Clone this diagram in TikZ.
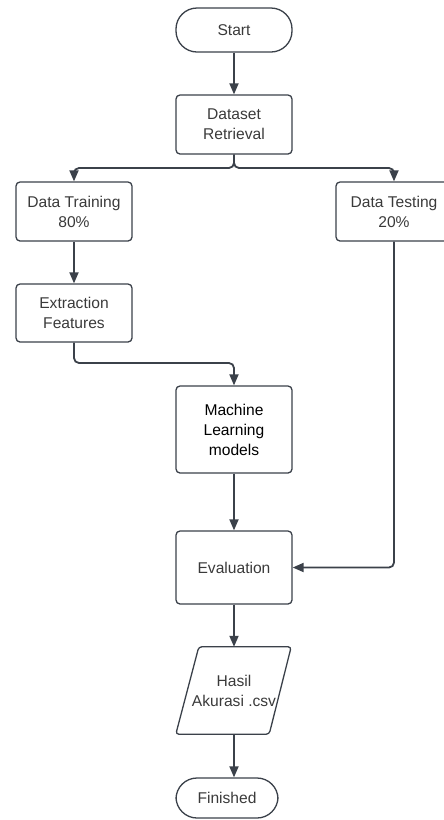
\documentclass[tikz,border=0pt]{standalone}
\usepackage{fontspec}
\setmainfont{Liberation Sans}
\usetikzlibrary{arrows.meta,calc}
\definecolor{linec}{HTML}{3B414A}
\definecolor{textc}{HTML}{3A3A3A}
\tikzset{
  box/.style={draw=linec, line width=1.3pt, rounded corners=4pt, minimum width=116pt,
    align=center, text=textc, inner sep=0pt, font=\fontsize{15.6}{20}\selectfont},
  term/.style={box, rounded corners=21pt},
  flow/.style={draw=linec, line width=1.8pt, rounded corners=5pt,
    -{Triangle[length=11pt,width=9pt]}},
}
\begin{document}
\begin{tikzpicture}[x=1pt,y=-1pt]
\useasboundingbox (0,0) rectangle (444,820);
\begin{scope}
\clip (0,0) rectangle (444,820);
\node[term, minimum height=44pt] (start) at (234,30) {Start};
\node[box, minimum height=59pt] (ds) at (234,124.5) {Dataset\\Retrieval};
\node[box, minimum height=59pt] (train) at (74,211.5) {Data Training\\80\%};
\node[box, minimum height=59pt] (test) at (394,211.5) {Data Testing\\20\%};
\node[box, minimum height=58pt] (ext) at (74,313) {Extraction\\Features};
\node[box, minimum height=87pt, text=black] (ml) at (234,429.5) {Machine\\Learning\\models};
\node[box, minimum height=73pt] (eval) at (234,567.5) {Evaluation};
\node[align=center, text=textc, inner sep=0pt, minimum width=116pt, minimum height=87pt,
  font=\fontsize{15.6}{20}\selectfont] (res) at (234,690.5) {Hasil\\Akurasi .csv};
\draw[linec, line width=1.3pt, rounded corners=3pt]
  ($(res.north west)+(23,0)$) -- ($(res.north east)+(-1,0)$) --
  ($(res.south east)+(-23,0)$) -- (res.south west) -- cycle;
\node[term, minimum width=102pt, minimum height=40pt] (fin) at (227,798) {Finished};

\coordinate (split) at (234,168);
\coordinate (bend) at (74,363);

\draw[flow] (start) -- (ds);
\draw[flow] (ds.south) -- (split) -| (train.north);
\draw[flow] (ds.south) -- (split) -| (test.north);
\draw[flow] (train) -- (ext);
\draw[flow] (ext.south) -- (bend) -| (ml.north);
\draw[flow] (ml) -- (eval);
\draw[flow] (test.south) |- (eval.east);
\draw[flow] (eval) -- (res.north);
\draw[flow] (res.south) -- (res.south |- fin.north);
\end{scope}
\end{tikzpicture}
\end{document}
